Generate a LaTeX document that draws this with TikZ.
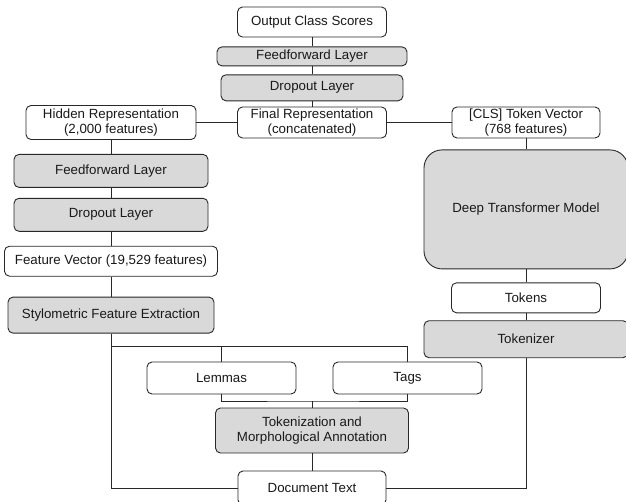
\documentclass[tikz,border=0pt]{standalone}
\usepackage{fontspec}
\setmainfont{Liberation Sans}
\usepackage{xcolor}
\usepackage{tikz}
\usetikzlibrary{positioning,calc}

\definecolor{layergray}{RGB}{217,217,217}
\definecolor{edgegray}{RGB}{40,40,40}

\begin{document}
\begin{tikzpicture}[
    x=1pt, y=-1pt,
    font=\fontsize{13.3}{15}\selectfont,
    base/.style={draw=edgegray, line width=0.9pt, rounded corners=5pt, align=center, inner sep=0pt, text=black!90},
    datbox/.style={base, fill=white},
    layer/.style={base, fill=layergray},
    link/.style={draw=edgegray, line width=0.9pt}
]
\useasboundingbox (0,0) rectangle (626,501);

% head of the model
\node[datbox, minimum width=149pt, minimum height=30pt] (out) at (312,22) {Output Class Scores};
\node[layer, minimum width=190pt, minimum height=19pt, below=9pt of out] (ffhead) {Feedforward Layer};
\node[layer, minimum width=182pt, minimum height=26pt, below=8pt of ffhead] (dohead) {Dropout Layer};
\node[datbox, minimum width=149pt, minimum height=31pt] (final) at (312,122.5) {Final Representation\\(concatenated)};

% stylometric branch
\node[datbox, minimum width=170pt, minimum height=34pt] (hidden) at (111,122.5) {Hidden Representation\\(2,000 features)};
\node[layer, minimum width=194pt, minimum height=33pt, below=14pt of hidden] (ffsty) {Feedforward Layer};
\node[layer, minimum width=194pt, minimum height=33pt, below=10pt of ffsty] (dosty) {Dropout Layer};
\node[datbox, minimum width=213pt, minimum height=30pt, below=14pt of dosty] (featvec) {Feature Vector (19,529 features)};
\node[layer, minimum width=206pt, minimum height=36pt, below=20pt of featvec] (stylo) {Stylometric Feature Extraction};

% transformer branch
\node[datbox, minimum width=148pt, minimum height=31pt] (cls) at (526,122.5) {[CLS] Token Vector\\(768 features)};
\node[layer, rounded corners=18pt, minimum width=204pt, minimum height=119pt, below=11pt of cls] (transf) {Deep Transformer Model};
\node[datbox, minimum width=149pt, minimum height=30pt, below=13pt of transf] (tokens) {Tokens};
\node[layer, minimum width=204pt, minimum height=37pt, below=7pt of tokens] (tokzr) {Tokenizer};

% annotation
\node[datbox, minimum width=149pt, minimum height=32pt] (lemmas) at (221.5,378) {Lemmas};
\node[datbox, minimum width=149pt, minimum height=32pt] (tags) at (407.5,378) {Tags};
\node[layer, minimum width=193pt, minimum height=45pt] (morph) at (312,430.5) {Tokenization and\\Morphological Annotation};
\node[datbox, minimum width=148pt, minimum height=34pt] (doc) at (312,488) {Document Text};

\coordinate (upjoin) at (111,346);
\coordinate (lowjoin) at (312,401);

\draw[link] (out) -- (ffhead);
\draw[link] (ffhead) -- (dohead);
\draw[link] (dohead) -- (final);
\draw[link] (hidden) -- (final);
\draw[link] (final) -- (cls);
\draw[link] (hidden) -- (ffsty);
\draw[link] (ffsty) -- (dosty);
\draw[link] (dosty) -- (featvec);
\draw[link] (featvec) -- (stylo);
\draw[link] (cls) -- (transf);
\draw[link] (transf) -- (tokens);
\draw[link] (tokens) -- (tokzr);
\draw[link] (stylo.south) |- (doc.west);
\draw[link] (upjoin) -| (tags.north);
\draw[link] (lemmas.north) -- (lemmas.north |- upjoin);
\draw[link] (lemmas.south) |- (lowjoin) -| (tags.south);
\draw[link] (lowjoin) -- (morph);
\draw[link] (morph) -- (doc);
\draw[link] (doc.east) -| (tokzr.south);
\end{tikzpicture}
\end{document}
